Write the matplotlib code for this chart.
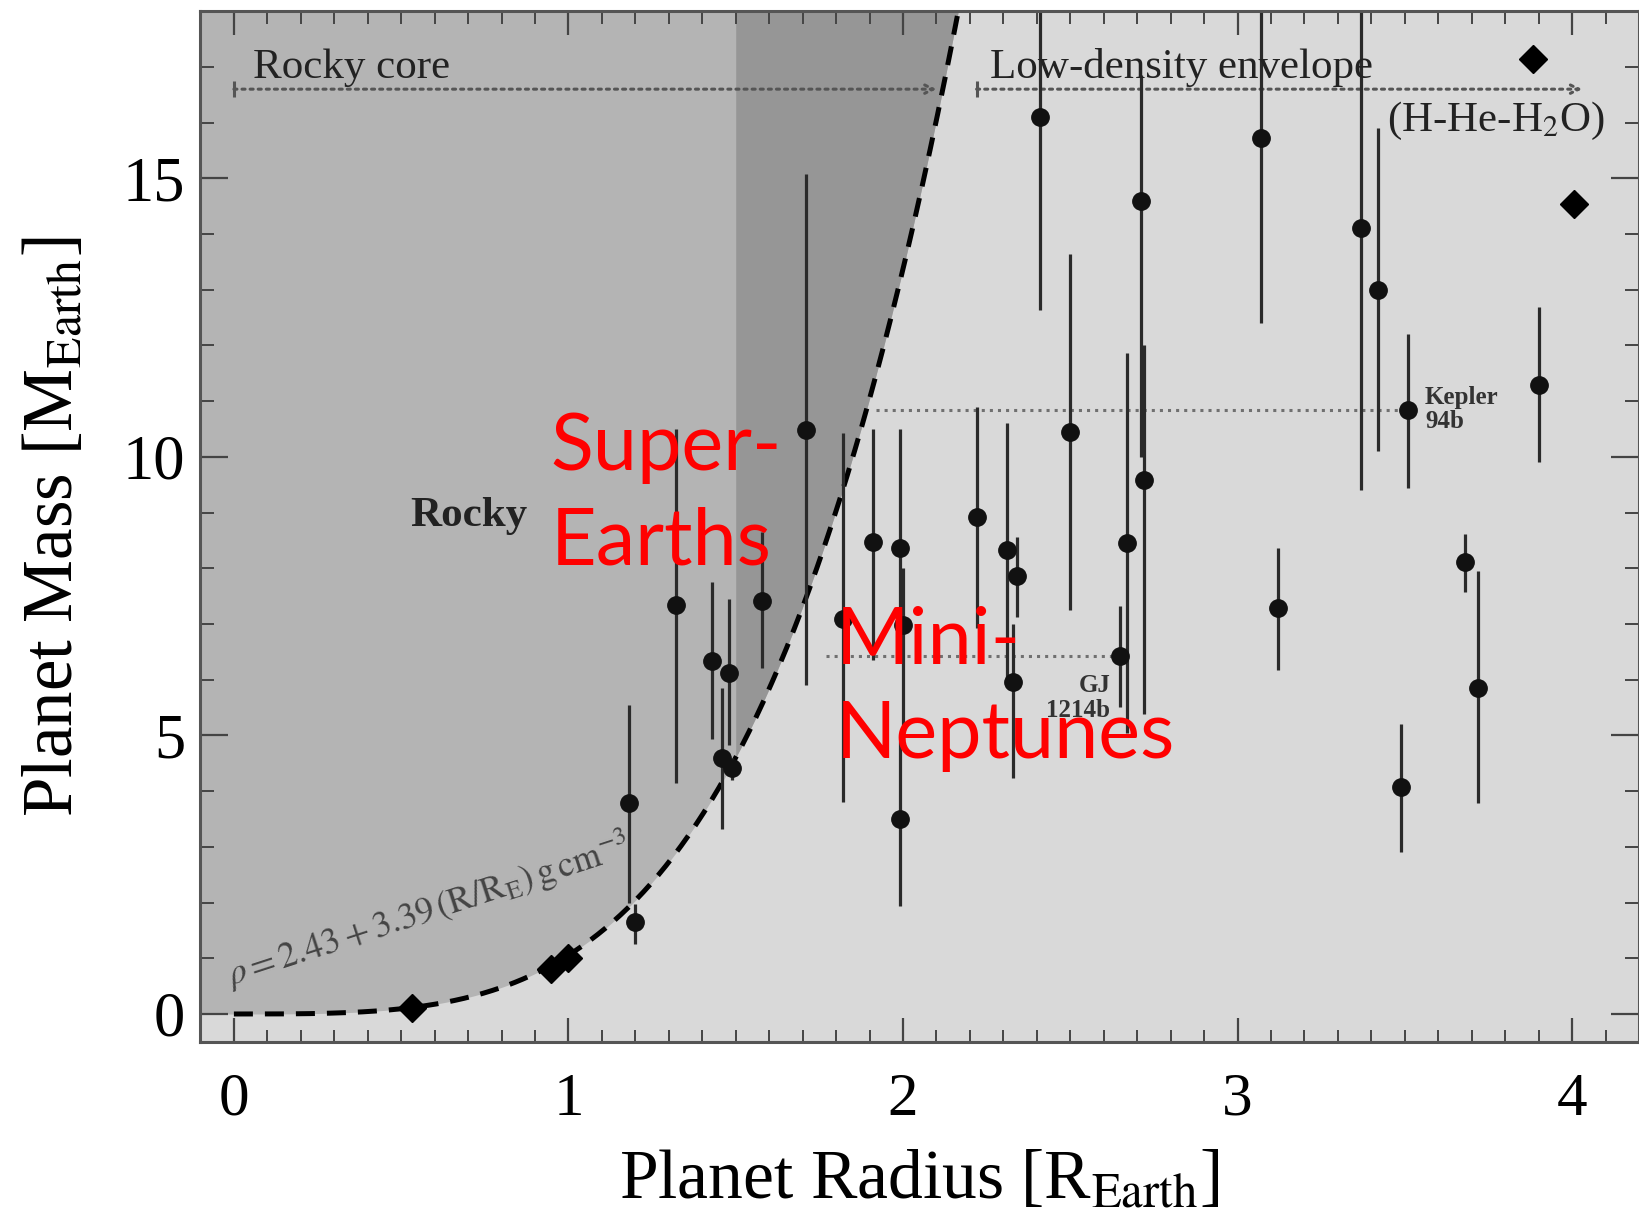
import numpy as np
import matplotlib
matplotlib.use('Agg')
import matplotlib.pyplot as plt

plt.rcParams['font.family'] = ['Liberation Serif', 'DejaVu Serif']
plt.rcParams['mathtext.fontset'] = 'stix'

# planets with measured masses: radius, mass, upper / lower end of the error bar
radius = [1.18, 1.20, 1.32, 1.43, 1.48, 1.46, 1.49, 1.58, 1.71, 1.82, 1.91, 1.99, 2.00, 1.99,
          2.22, 2.31, 2.34, 2.33, 2.41, 2.50, 2.65, 2.67, 2.71, 2.72, 3.07, 3.12, 3.37, 3.42,
          3.49, 3.51, 3.68, 3.72, 3.90]
mass = [3.79, 1.65, 7.34, 6.33, 6.12, 4.60, 4.41, 7.41, 10.49, 7.09, 8.47, 8.36, 6.98, 3.50,
        8.92, 8.33, 7.86, 5.95, 16.10, 10.45, 6.42, 8.45, 14.60, 9.58, 15.72, 7.28, 14.10, 13.00,
        4.07, 10.84, 8.11, 5.85, 11.29]
mass_hi = [5.55, 1.97, 10.50, 7.75, 7.45, 5.85, 4.60, 8.65, 15.08, 10.42, 10.50, 10.50, 8.00, 4.90,
           10.90, 10.60, 8.57, 7.00, 18.50, 13.64, 7.33, 11.86, 16.85, 12.00, 18.50, 8.37, 18.50, 15.90,
           5.20, 12.20, 8.61, 7.95, 12.69]
mass_lo = [2.00, 1.26, 4.15, 4.93, 4.82, 3.32, 4.20, 6.21, 5.90, 3.80, 6.35, 6.50, 4.80, 1.93,
           6.93, 5.90, 7.13, 4.24, 12.64, 7.26, 5.51, 5.04, 10.00, 5.38, 12.40, 6.17, 9.40, 10.10,
           2.91, 9.44, 7.58, 3.79, 9.90]

# solar system planets: Mars, Venus, Earth, Neptune, Uranus
ss_radius = [0.532, 0.949, 1.0, 3.883, 4.007]
ss_mass = [0.107, 0.815, 1.0, 17.15, 14.54]

# rocky boundary: rho = 2.43 + 3.39 (R/R_E) g/cm^3, M = rho/rho_E * R^3
rho_earth = 5.51
ymax = 18.0

fig = plt.figure(figsize=(16.39, 12.13), dpi=100)
ax = fig.add_axes([0.1223, 0.1411, 0.8777, 0.8497])
ax.set_xlim(-0.1, 4.2)
ax.set_ylim(-0.5, ymax)
ax.set_facecolor('#d9d9d9')

r = np.linspace(0, 2.25, 400)
m_curve = (2.43 + 3.39 * r) / rho_earth * r ** 3
keep = m_curve <= ymax
r_top = np.interp(ymax, m_curve, r)
rr = np.concatenate([[-0.1], r[keep], [r_top]])
mm = np.concatenate([[0.0], m_curve[keep], [ymax]])
ax.fill_between(rr, mm, ymax, color='#b4b4b4', lw=0, zorder=1)
band = rr >= 1.5
ax.fill_between(rr[band], mm[band], ymax, color='#969696', lw=0, zorder=1)
ax.plot(np.concatenate([r[keep], [r_top]]), np.concatenate([m_curve[keep], [ymax]]),
        color='black', ls=(0, (3.8, 2.4)), lw=3.6, zorder=3)

# dotted guide lines for Kepler-94b and GJ 1214b
ax.plot([1.92, 3.51], [10.84, 10.84], color='#707070', ls=':', lw=2.2, zorder=2)
ax.plot([1.77, 2.65], [6.42, 6.42], color='#707070', ls=':', lw=2.2, zorder=2)

# data points
yerr = [np.array(mass) - np.array(mass_lo), np.array(mass_hi) - np.array(mass)]
ax.errorbar(radius, mass, yerr=yerr, fmt='o', color='#111111', ecolor='#2a2a2a',
            elinewidth=2.3, markersize=12.5, capsize=0, zorder=4)
ax.plot(ss_radius, ss_mass, 'D', color='black', markersize=14, zorder=5)

# region arrows
arrow_kw = dict(arrowstyle='->,head_length=0.6,head_width=0.3',
                color='#555555', lw=2.2, ls=':', shrinkA=0, shrinkB=0)
for x0, x1 in [(0.0, 2.1), (2.22, 4.03)]:
    ax.annotate('', xy=(x1, 16.6), xytext=(x0, 16.6), arrowprops=arrow_kw, zorder=3)
    ax.plot([x0], [16.6], marker='|', color='#555555', markersize=12, mew=2.2, zorder=3)
ax.text(0.056, 16.8, 'Rocky core', fontsize=31, color='#222222', zorder=6)
ax.text(2.26, 16.8, 'Low-density envelope', fontsize=31, color='#222222', zorder=6)
ax.text(4.1, 15.85, r'(H-He-H$_2$O)', fontsize=31, color='#222222', ha='right', zorder=6)

ax.text(0.528, 8.76, 'Rocky', fontsize=31, fontweight='bold', color='#222222', zorder=6)
ax.text(3.56, 10.85, 'Kepler\n94b', fontsize=18, fontweight='bold', color='#333333',
        va='center', linespacing=1.1, zorder=6)
ax.text(2.62, 5.67, 'GJ\n1214b', fontsize=18, fontweight='bold', color='#333333',
        va='center', ha='right', multialignment='right', linespacing=1.1, zorder=6)
ax.text(-0.01, 0.5, r'$\rho = 2.43 + 3.39\,(\mathrm{R/R_E})\,\mathrm{g\,cm^{-3}}$', fontsize=26,
        color='#444444', rotation=18, rotation_mode='anchor', zorder=6)

red_kw = dict(fontsize=57, color='#ff0000', family=['Lato', 'DejaVu Sans'], va='baseline',
              linespacing=1.38, zorder=7)
ax.text(0.946, 8.07, 'Super-\nEarths', **red_kw)
ax.text(1.80, 4.60, 'Mini-\nNeptunes', **red_kw)

# axes styling
ax.set_xticks([0, 1, 2, 3, 4])
ax.set_yticks([0, 5, 10, 15])
ax.set_xticks(np.arange(-0.1, 4.21, 0.1), minor=True)
ax.set_yticks(np.arange(0, 18.1, 1), minor=True)
ax.tick_params(which='both', direction='in', top=True, right=True, color='#444444')
ax.tick_params(axis='x', which='major', length=17, width=1.6, labelsize=44, pad=22)
ax.tick_params(axis='x', which='minor', length=9, width=1.4)
ax.tick_params(axis='y', which='major', length=20, width=1.6, labelsize=45, pad=11)
ax.tick_params(axis='y', which='minor', length=10, width=1.4)
for s in ax.spines.values():
    s.set_color('#555555')
    s.set_linewidth(2.2)
    s.set_zorder(8)

ax.set_xlabel(r'Planet Radius [R$_\mathrm{Earth}$]', fontsize=50, labelpad=16)
ax.set_ylabel(r'Planet Mass [M$_\mathrm{Earth}$]', fontsize=51, labelpad=26)

fig.savefig('out.png', dpi=100)
